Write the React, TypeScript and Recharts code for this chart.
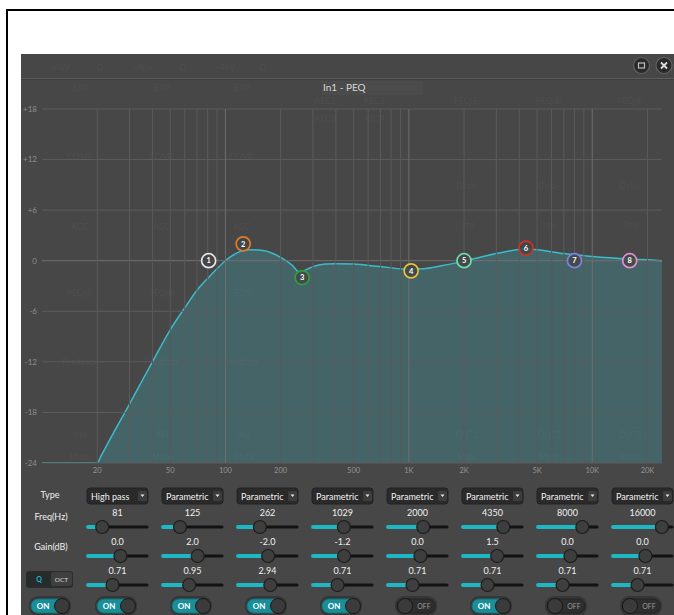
import React from 'react';
import { ComposedChart, Area, XAxis, YAxis, ReferenceLine, Scatter } from 'recharts';

// ---- EQ response curve ----
const curveFreqs = [10, 20, 21, 25, 30, 35, 40, 50, 60, 70, 80, 90, 100, 115, 134, 160, 200, 230, 255, 280, 300, 350, 400, 500, 700, 1000, 1200, 1500, 2000, 3000, 4350, 5000, 7000, 8000, 10000, 16000, 20000, 24000];
const curveGains = [-24, -24, -23.15, -20.1, -17, -14.3, -12, -8.2, -5.6, -3.5, -2.1, -0.95, 0.0, 0.9, 1.3, 1.2, 0.4, -0.5, -1.4, -1.0, -0.7, -0.4, -0.35, -0.4, -0.7, -1.0, -0.95, -0.6, -0.05, 0.85, 1.4, 1.3, 0.85, 0.7, 0.5, 0.2, 0.1, 0.0];

// ---- bands ----
const bandNumbers = [1, 2, 3, 4, 5, 6, 7, 8];
const bandTypes = ['High pass', 'Parametric', 'Parametric', 'Parametric', 'Parametric', 'Parametric', 'Parametric', 'Parametric'];
const bandFreqs = [81, 125, 262, 1029, 2000, 4350, 8000, 16000];
const bandGains = [0.0, 2.0, -2.0, -1.2, 0.0, 1.5, 0.0, 0.0];
const bandQs = [0.71, 0.95, 2.94, 0.71, 0.71, 0.71, 0.71, 0.71];
const bandOn = [true, true, true, true, false, true, false, false];
const bandColors = ['#e6e6e6', '#e07b2e', '#2f9e3f', '#e6c33a', '#6fdcaa', '#c8352a', '#7b83e0', '#e08fd0'];

// ---- axes ----
const freqTicks = [20, 50, 100, 200, 500, 1000, 2000, 5000, 10000, 20000];
const freqTickLabels = ['20', '50', '100', '200', '500', '1K', '2K', '5K', '10K', '20K'];
const gainTicks = [-24, -18, -12, -6, 0, 6, 12, 18];
const gridFreqs = [20, 30, 40, 50, 60, 70, 80, 90, 100, 200, 300, 400, 500, 600, 700, 800, 900, 1000, 2000, 3000, 4000, 5000, 6000, 7000, 8000, 9000, 10000, 20000];
const decadeFreqs = [100, 1000, 10000];

const FONT = "Lato, 'Open Sans', sans-serif";

const curveData = curveFreqs.map((f, i) => ({ f, db: curveGains[i] }));
const bandPoints = bandFreqs.map((f, i) => ({ f, g: bandGains[i], n: bandNumbers[i], color: bandColors[i] }));

const Marker = (props: any) => {
  const { cx, cy, payload } = props;
  if (cx == null || cy == null) return null;
  return (
    <g>
      <circle cx={cx} cy={cy} r={7} fill="rgba(68,68,68,0.85)" stroke={payload.color} strokeWidth={1.7} />
      <text x={cx} y={cy + 2.7} textAnchor="middle" fontSize={7.5} fontWeight={700} fill="#ffffff" fontFamily={FONT}>
        {payload.n}
      </text>
    </g>
  );
};

const ghost: [number, number, string][] = [
  [60, 71, '+48V'], [100, 71, 'Ø'], [143, 71, '+48V'], [183, 71, 'Ø'], [225, 71, '+48V'], [263, 71, 'Ø'],
  [80, 91, 'EXP'], [162, 91, 'EXP'], [242, 91, 'EXP'],
  [325, 104, 'AEC2'], [325, 122, 'AEC3'], [374, 104, 'AEC2'], [374, 122, 'AEC4'],
  [467, 104, 'PEQ(8)'], [549, 104, 'PEQ(8)'], [630, 104, 'PEQ(8)'],
  [80, 160, 'COMP'], [162, 160, 'COMP'], [242, 160, 'COMP'],
  [467, 189, 'Delay'], [549, 189, 'Delay'], [630, 189, 'Delay'],
  [467, 228, '1ms'], [549, 228, '1ms'], [630, 228, '1ms'],
  [80, 230, 'AGC'], [162, 230, 'AGC'], [242, 230, 'AGC'],
  [80, 296, 'PEQ(8)'], [162, 296, 'PEQ(8)'], [242, 296, 'PEQ(8)'],
  [80, 365, 'Feedback'], [162, 365, 'Feedback'], [242, 365, 'Feedback'],
  [80, 438, 'IN6'], [162, 438, 'IN7'], [244, 438, 'IN8'],
  [80, 460, 'Mute'], [162, 460, 'Mute'], [244, 460, 'Mute'],
  [467, 438, 'OUT1'], [549, 438, 'OUT2'], [630, 438, 'OUT3'],
  [467, 460, 'Mute'], [549, 460, 'Mute'], [630, 460, 'Mute'],
];

const colLeft = (i: number) => 87 + 75 * i;
const freqPos = (f: number) => Math.log(f / 20) / Math.log(30000 / 20);
const gainPos = (g: number) => (g + 24) / 42;
const qPos = (q: number) => Math.log(q / 0.02) / Math.log(128 / 0.02);

const Slider = ({ x0, y, pos }: { x0: number; y: number; pos: number }) => {
  const cx = x0 + 6 + 48 * pos;
  return (
    <g>
      <line x1={x0 + 1} x2={x0 + 60} y1={y} y2={y} stroke="#121212" strokeWidth={3} strokeLinecap="round" />
      <line x1={x0 + 1} x2={cx} y1={y} y2={y} stroke="#1db8c4" strokeWidth={4} strokeLinecap="round" />
      <circle cx={cx} cy={y} r={6.5} fill="#3e3e3e" stroke="#1c1c1c" strokeWidth={1.2} />
    </g>
  );
};

const Toggle = ({ x, on }: { x: number; on: boolean }) => (
  <g>
    <rect x={x - 2} y={596} width={42} height={20} rx={9} fill="#363636" />
    <rect x={x} y={599} width={38} height={14} rx={7} fill={on ? '#1a8f9a' : '#2e2e2e'} stroke={on ? '#14727b' : '#242424'} />
    {on ? (
      <>
        <text x={x + 12} y={609} textAnchor="middle" fontSize={8} fontWeight={700} fill="#ffffff" fontFamily={FONT}>ON</text>
        <circle cx={x + 31} cy={606} r={7.5} fill="#3b3b3b" stroke="#1a1a1a" strokeWidth={1} />
      </>
    ) : (
      <>
        <circle cx={x + 8} cy={606} r={7.5} fill="#3b3b3b" stroke="#1a1a1a" strokeWidth={1} />
        <text x={x + 27} y={609} textAnchor="middle" fontSize={7} fill="#9a9a9a" fontFamily={FONT}>OFF</text>
      </>
    )}
  </g>
);

export default function App() {
  return (
    <div style={{ position: 'absolute', left: 0, top: 0, width: 674, height: 615, background: '#ffffff', overflow: 'hidden' }}>
      {/* black frame */}
      <div style={{ position: 'absolute', left: 6, top: 9, width: 2, height: 606, background: '#000' }} />
      <div style={{ position: 'absolute', left: 6, top: 9, width: 668, height: 2, background: '#000' }} />
      {/* dark panel */}
      <div style={{ position: 'absolute', left: 21, top: 54, width: 653, height: 561, background: '#474747' }} />
      <div style={{ position: 'absolute', left: 21, top: 78, width: 653, height: 1, background: '#5d5d5d' }} />
      <div style={{ position: 'absolute', left: 21, top: 79, width: 653, height: 1, background: '#3e3e3e' }} />

      {/* ghost background text */}
      <svg width={674} height={615} style={{ position: 'absolute', left: 0, top: 0 }}>
        <rect x={321} y={81} width={102} height={14} fill="rgba(255,255,255,0.025)" />
        {ghost.map(([x, y, t], i) => (
          <text key={i} x={x} y={y} textAnchor="middle" fontSize={8.5} fill="rgba(255,255,255,0.055)" fontFamily={FONT}>{t}</text>
        ))}
      </svg>

      <div style={{ position: 'absolute', left: 0, top: 0 }}>
        <ComposedChart width={674} height={615} data={curveData} margin={{ top: 109, right: 12, left: 0, bottom: 122 }}>
          <XAxis
            dataKey="f"
            type="number"
            scale="log"
            domain={[10, 24000]}
            allowDataOverflow
            ticks={freqTicks}
            interval={0}
            height={30}
            axisLine={false}
            tickLine={false}
            tickSize={0}
            tickMargin={5}
            tickFormatter={(v: number) => freqTickLabels[freqTicks.indexOf(v)] ?? String(v)}
            tick={{ fill: '#949494', fontSize: 7.5, fontFamily: FONT }}
          />
          <YAxis
            type="number"
            domain={[-24, 18]}
            allowDataOverflow
            ticks={gainTicks}
            interval={0}
            width={42}
            axisLine={false}
            tickLine={false}
            tickSize={0}
            tickMargin={5}
            tickFormatter={(v: number) => (v > 0 ? `+${v}` : String(v))}
            tick={{ fill: '#8e8e8e', fontSize: 8, fontFamily: FONT }}
          />
          {gainTicks.map((g) => (
            <ReferenceLine key={'h' + g} y={g} stroke={g === 0 ? '#707070' : '#5c5c5c'} strokeWidth={1} />
          ))}
          {gridFreqs.map((f) => (
            <ReferenceLine key={'v' + f} x={f} stroke={decadeFreqs.includes(f) ? '#6e6e6e' : '#5a5a5a'} strokeWidth={1} />
          ))}
          <Area
            type="monotone"
            dataKey="db"
            baseValue={-24}
            stroke="#3bbccc"
            strokeWidth={1.5}
            fill="#3fa8b5"
            fillOpacity={0.3}
            isAnimationActive={false}
            dot={false}
            activeDot={false}
          />
          <Scatter data={bandPoints} dataKey="g" isAnimationActive={false} shape={(p: any) => <Marker {...p} />} />
        </ComposedChart>
      </div>

      {/* title, buttons and control panel */}
      <svg width={674} height={615} style={{ position: 'absolute', left: 0, top: 0, pointerEvents: 'none' }}>
        <text x={323} y={91} fontSize={10} fill="#d8d8d8" fontFamily={FONT}>In1 - PEQ</text>

        <circle cx={641.5} cy={65.5} r={8} fill="#2a2a2a" stroke="#626262" strokeWidth={1.2} />
        <rect x={638.5} y={63} width={6} height={5} fill="none" stroke="#bdbdbd" strokeWidth={1.2} />
        <circle cx={664} cy={65.5} r={8} fill="#2a2a2a" stroke="#626262" strokeWidth={1.2} />
        <path d="M661,62.5 L667,68.5 M667,62.5 L661,68.5" stroke="#dddddd" strokeWidth={1.8} />

        {/* row labels */}
        <text x={50} y={498} textAnchor="middle" fontSize={9} fill="#f0f0f0" fontFamily={FONT}>Type</text>
        <text x={51} y={520} textAnchor="middle" fontSize={9} fill="#f0f0f0" fontFamily={FONT}>Freq(Hz)</text>
        <text x={51} y={550} textAnchor="middle" fontSize={9} fill="#f0f0f0" fontFamily={FONT}>Gain(dB)</text>

        {/* Q / OCT */}
        <rect x={26} y={571} width={47} height={17} rx={3} fill="#2c2c2c" />
        <rect x={27} y={572} width={24} height={14} rx={2} fill="#262b2c" />
        <text x={39} y={582} textAnchor="middle" fontSize={7} fontWeight={700} fill="#1fb5c2" fontFamily={FONT}>Q</text>
        <rect x={51} y={572} width={21} height={14} rx={2} fill="#3f3f3f" />
        <text x={61.5} y={582} textAnchor="middle" fontSize={6.5} fill="#dddddd" fontFamily={FONT}>OCT</text>

        <Toggle x={31} on={true} />

        {bandNumbers.map((n, i) => {
          const x0 = colLeft(i);
          const cxText = x0 + 30.5;
          return (
            <g key={n}>
              <rect x={x0} y={488} width={61} height={16} rx={3} fill="#2a2a2a" stroke="#232323" />
              <text x={x0 + 4} y={499.5} fontSize={9} fill="#f2f2f2" fontFamily={FONT}>{bandTypes[i]}</text>
              <rect x={x0 + 51} y={491} width={9} height={10} rx={1.5} fill="#3d3d3d" />
              <path d={`M${x0 + 53.5},494.5 L${x0 + 57.5},494.5 L${x0 + 55.5},497 Z`} fill="#e8e8e8" />

              <text x={cxText} y={516} textAnchor="middle" fontSize={9} fill="#f0f0f0" fontFamily={FONT}>{bandFreqs[i]}</text>
              <Slider x0={x0} y={527} pos={freqPos(bandFreqs[i])} />

              <text x={cxText} y={545} textAnchor="middle" fontSize={9} fill="#f0f0f0" fontFamily={FONT}>{bandGains[i].toFixed(1)}</text>
              <Slider x0={x0} y={556} pos={gainPos(bandGains[i])} />

              <text x={cxText} y={574} textAnchor="middle" fontSize={9} fill="#f0f0f0" fontFamily={FONT}>{bandQs[i].toFixed(2)}</text>
              <Slider x0={x0} y={585} pos={qPos(bandQs[i])} />

              <Toggle x={x0 + 10} on={bandOn[i]} />
            </g>
          );
        })}
      </svg>
    </div>
  );
}
